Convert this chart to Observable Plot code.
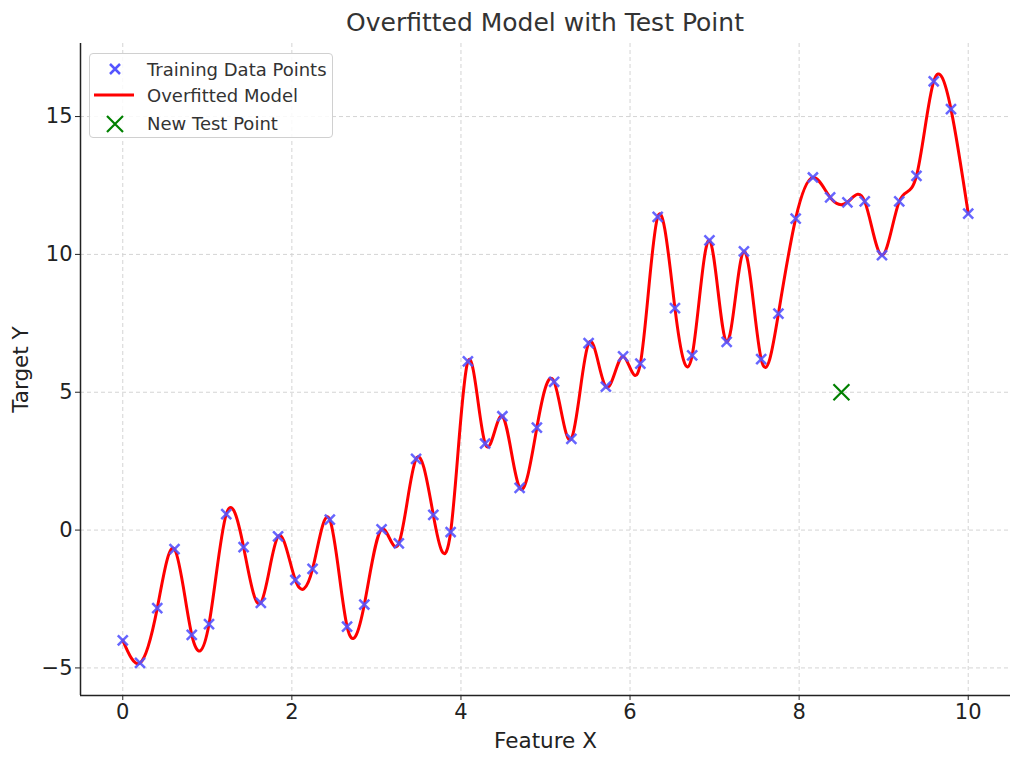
<!DOCTYPE html>
<html>
<head>
<meta charset="utf-8">
<script src="https://cdn.jsdelivr.net/npm/d3@7"></script>
<script src="https://cdn.jsdelivr.net/npm/@observablehq/plot@0.6"></script>
<style>
  body { margin: 0; background: #fff; font-family: "DejaVu Sans", sans-serif; }
  #wrap { position: relative; width: 1024px; height: 765px; }
  #title { position: absolute; left: 80px; width: 930px; top: 8px; text-align: center; font-size: 25px; color: #333; line-height: 29px; }
  #chart { position: absolute; left: 0; top: 43px; }
  #chart svg g[aria-label="x-axis tick label"] text, #chart svg g[aria-label="y-axis tick label"] text { font-size: 21px; }
  #chart svg g[aria-label="x-axis label"] text, #chart svg g[aria-label="y-axis label"] text { font-size: 21.5px; }
  #legend { position: absolute; left: 89px; top: 53px; width: 244px; height: 85px; border: 1px solid #d0d0d0; border-radius: 4px; background: rgba(255,255,255,0.85); box-sizing: border-box; }
  #legend svg { position: absolute; left: 0; top: 0; }
  .lt { font-family: "DejaVu Sans", sans-serif; font-size: 18px; fill: #333; }
</style>
</head>
<body>
<div id="wrap">
  <div id="title">Overfitted Model with Test Point</div>
  <div id="chart"></div>
  <div id="legend">
    <svg width="244" height="85">
      <path d="M20,10 L30,20 M30,10 L20,20" stroke="#5555ff" stroke-width="2.5" fill="none"/>
      <text class="lt" x="57" y="21.5">Training Data Points</text>
      <line x1="4" x2="44" y1="41" y2="41" stroke="red" stroke-width="3"/>
      <text class="lt" x="57" y="48">Overfitted Model</text>
      <path d="M17,62 L33,78 M33,62 L17,78" stroke="green" stroke-width="2.2" fill="none"/>
      <text class="lt" x="57" y="75.5">New Test Point</text>
    </svg>
  </div>
</div>
<script>
const titleText = "Overfitted Model with Test Point";
const xLabel = "Feature X";
const yLabel = "Target Y";
const xTicks = [0, 2, 4, 6, 8, 10];
const yTicks = [-5, 0, 5, 10, 15];
const xDomain = [-0.5, 10.5];
const yDomain = [-6.0, 17.65];

const trainX = [0, 0.204, 0.408, 0.612, 0.816, 1.020, 1.224, 1.429, 1.633, 1.837,
  2.041, 2.245, 2.449, 2.653, 2.857, 3.061, 3.265, 3.469, 3.673, 3.878,
  4.082, 4.286, 4.490, 4.694, 4.898, 5.102, 5.306, 5.510, 5.714, 5.918,
  6.122, 6.327, 6.531, 6.735, 6.939, 7.143, 7.347, 7.551, 7.755, 7.959,
  8.163, 8.367, 8.571, 8.776, 8.980, 9.184, 9.388, 9.592, 9.796, 10.0];
const trainY = [-4.00, -4.82, -2.83, -0.69, -3.80, -3.41, 0.58, -0.62, -2.64, -0.23,
  -1.81, -1.41, 0.38, -3.50, -2.70, 0.03, -0.48, 2.58, 0.55, -0.07,
  6.12, 3.14, 4.13, 1.53, 3.72, 5.38, 3.31, 6.78, 5.20, 6.30,
  6.04, 11.36, 8.05, 6.34, 10.51, 6.83, 10.11, 6.20, 7.85, 11.30,
  12.79, 12.07, 11.89, 11.92, 9.97, 11.92, 12.85, 16.28, 15.27, 11.48];
const testX = [8.5];
const testY = [5];

const train = trainX.map((x, i) => ({x, y: trainY[i]}));
const test = testX.map((x, i) => ({x, y: testY[i]}));

const plot = Plot.plot({
  width: 1024,
  height: 722,
  marginLeft: 80,
  marginRight: 14,
  marginTop: 0,
  marginBottom: 70,
  style: { fontFamily: "DejaVu Sans, sans-serif", fontSize: "21px", color: "#222", background: "white" },
  x: { domain: xDomain },
  y: { domain: yDomain },
  marks: [
    Plot.gridX(xTicks, { stroke: "#d4d4d4", strokeOpacity: 1, strokeDasharray: "4,3" }),
    Plot.gridY(yTicks, { stroke: "#d4d4d4", strokeOpacity: 1, strokeDasharray: "4,3" }),
    Plot.axisX(xTicks, { tickSize: 5, tickPadding: 4, fontSize: 21, label: xLabel, labelAnchor: "center", labelArrow: "none", labelOffset: 52, stroke: "#222" }),
    Plot.axisY(yTicks, { tickSize: 5, tickPadding: 3, fontSize: 21, label: yLabel, labelAnchor: "center", labelArrow: "none", labelOffset: 68, stroke: "#222" }),
    Plot.ruleX([xDomain[0]], { stroke: "#222", strokeWidth: 1.5 }),
    Plot.ruleY([yDomain[0]], { stroke: "#222", strokeWidth: 1.5 }),
    Plot.line(train, { x: "x", y: "y", curve: "natural", stroke: "red", strokeWidth: 3 }),
    Plot.dot(train, { x: "x", y: "y", symbol: "times", r: 4.6, stroke: "#5555ff", strokeOpacity: 0.9, strokeWidth: 2.5 }),
    Plot.dot(test, { x: "x", y: "y", symbol: "times", r: 7.3, stroke: "green", strokeWidth: 2.2 })
  ]
});
document.getElementById("chart").appendChild(plot);
document.getElementById("title").textContent = titleText;
</script>
</body>
</html>
